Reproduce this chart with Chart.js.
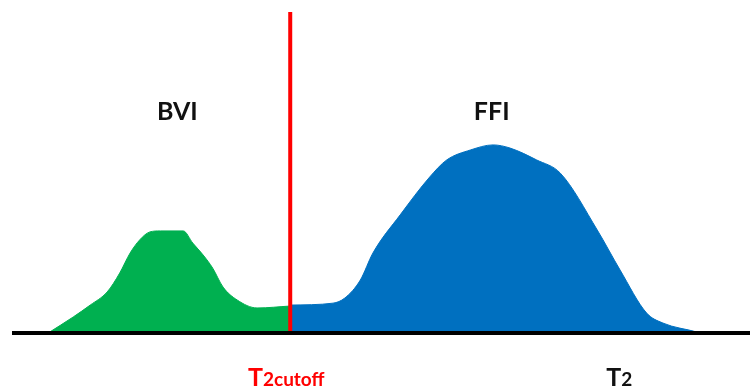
<!DOCTYPE html>
<html>
<head>
<meta charset="utf-8">
<style>
  html, body { margin: 0; padding: 0; background: #ffffff; }
  #wrap { width: 750px; height: 389px; }
</style>
<script src="https://cdn.jsdelivr.net/npm/chart.js@4/dist/chart.umd.min.js"></script>
</head>
<body>
<div id="wrap"><canvas id="t2chart" width="750" height="389"></canvas></div>
<script>
// T2 distribution (relative T2 position, relative amplitude)
const bviT2  = [4.9, 8.3, 10.6, 12.9, 14.6, 16.0, 17.3, 18.7, 20.1, 23.2, 24.5, 25.9, 27.2, 28.6, 30.5, 33.2, 37.7];
const bviAmp = [0.0, 5.0, 8.7, 12.8, 18.7, 24.9, 29.0, 31.5, 31.8, 31.8, 28.0, 24.3, 20.2, 14.3, 10.3, 7.8, 8.4];

const ffiT2  = [37.7, 43.5, 45.1, 47.2, 48.9, 52.6, 56.6, 58.9, 62.1, 65.2, 67.5, 71.1, 74.3, 79.3, 82.4, 86.0, 88.2, 92.8, 93.2];
const ffiAmp = [8.7, 9.3, 10.9, 16.5, 24.9, 36.8, 48.6, 53.9, 57.0, 58.6, 57.6, 53.9, 49.8, 32.1, 19.6, 6.2, 3.1, 0.3, 0.0];

const t2Cutoff = 37.7;
const regionLabels = ['BVI', 'FFI'];
const regionLabelT2 = [22.4, 65.0];
const regionLabelAmp = 66.2;
const axisLabelT2 = 82.3;

const toPoints = (xs, ys) => xs.map((x, i) => ({ x: x, y: ys[i] }));

const FONT = '"Lato", "Open Sans", "DejaVu Sans", sans-serif';

// Baseline, cutoff line and text annotations
const annotate = {
  id: 'annotate',
  afterDatasetsDraw(chart) {
    const { ctx, chartArea, scales } = chart;
    const xs = scales.x, ys = scales.y;
    const y0 = ys.getPixelForValue(0);
    const xc = xs.getPixelForValue(t2Cutoff);
    ctx.save();

    // cutoff line
    ctx.strokeStyle = '#ff0000';
    ctx.lineWidth = 4;
    ctx.beginPath();
    ctx.moveTo(xc, chartArea.top);
    ctx.lineTo(xc, y0);
    ctx.stroke();

    // T2 axis baseline
    ctx.strokeStyle = '#000000';
    ctx.lineWidth = 4;
    ctx.beginPath();
    ctx.moveTo(chartArea.left, y0);
    ctx.lineTo(chart.width, y0);
    ctx.stroke();

    // region names
    ctx.fillStyle = '#111111';
    ctx.font = 'bold 25px ' + FONT;
    ctx.textAlign = 'center';
    ctx.textBaseline = 'alphabetic';
    regionLabels.forEach((t, i) => {
      ctx.fillText(t, xs.getPixelForValue(regionLabelT2[i]), ys.getPixelForValue(regionLabelAmp));
    });

    // axis labels with reduced-size index
    const drawSub = (main, sub, cx, base, color) => {
      ctx.font = 'bold 25px ' + FONT;
      const w1 = ctx.measureText(main).width;
      ctx.font = 'bold 19px ' + FONT;
      const w2 = ctx.measureText(sub).width;
      let x = cx - (w1 + w2) / 2;
      ctx.fillStyle = color;
      ctx.textAlign = 'left';
      ctx.font = 'bold 25px ' + FONT;
      ctx.fillText(main, x, base);
      ctx.font = 'bold 19px ' + FONT;
      ctx.fillText(sub, x + w1, base);
    };
    const base = y0 + 53;
    drawSub('T', '2cutoff', xc - 4, base, '#ff0000');
    drawSub('T', '2', xs.getPixelForValue(axisLabelT2), base, '#111111');

    ctx.restore();
  }
};

new Chart(document.getElementById('t2chart'), {
  type: 'line',
  data: {
    datasets: [
      {
        label: 'BVI',
        data: toPoints(bviT2, bviAmp),
        backgroundColor: '#00b050',
        borderColor: '#00b050',
        borderWidth: 1,
        pointRadius: 0,
        fill: 'origin',
        cubicInterpolationMode: 'monotone'
      },
      {
        label: 'FFI',
        data: toPoints(ffiT2, ffiAmp),
        backgroundColor: '#0070c0',
        borderColor: '#0070c0',
        borderWidth: 1,
        pointRadius: 0,
        fill: 'origin',
        cubicInterpolationMode: 'monotone'
      }
    ]
  },
  options: {
    responsive: false,
    animation: false,
    layout: { padding: { left: 12, right: 0, top: 12, bottom: 56 } },
    plugins: { legend: { display: false }, tooltip: { enabled: false } },
    scales: {
      x: { type: 'linear', min: 0, max: 100, display: false },
      y: { type: 'linear', min: 0, max: 100, display: false }
    }
  },
  plugins: [annotate]
});
</script>
</body>
</html>
